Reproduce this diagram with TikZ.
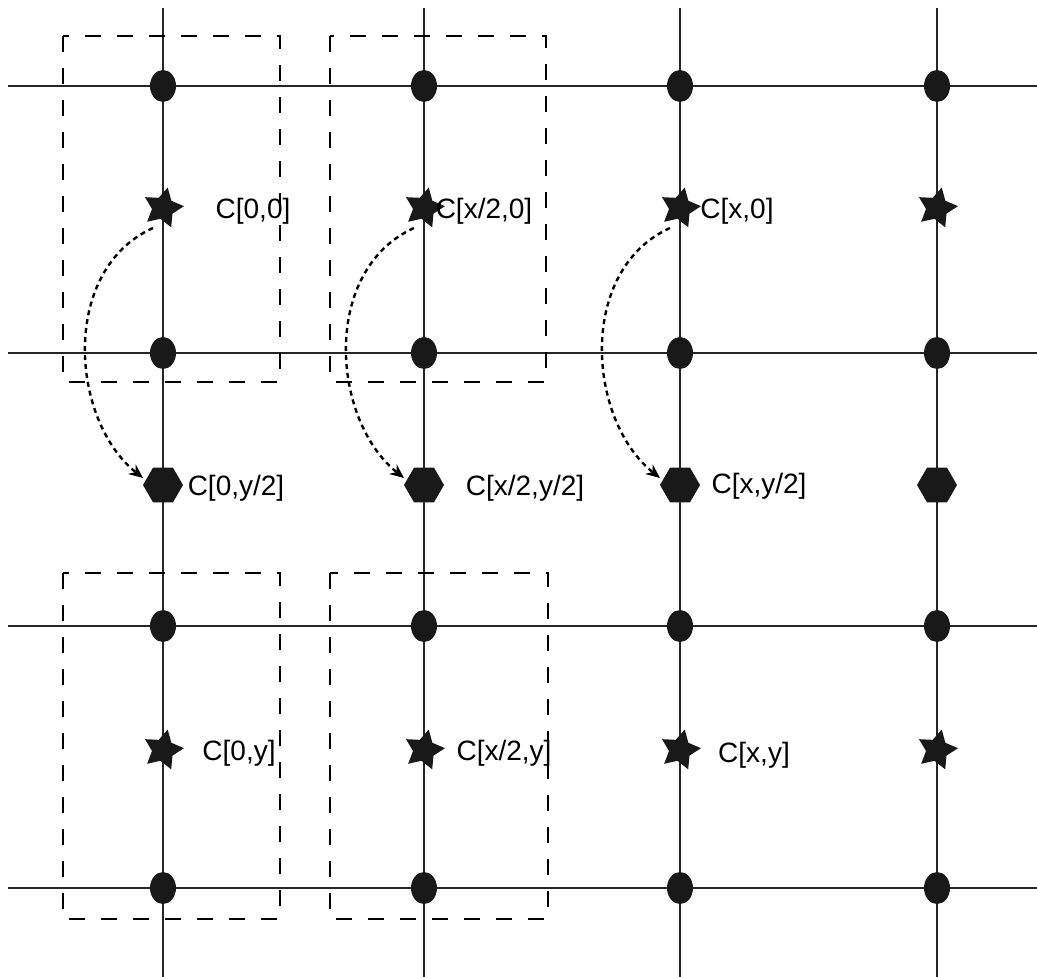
\documentclass[tikz,border=0pt]{standalone}
\usepackage{fontspec}
\setmainfont{Liberation Sans}
\usetikzlibrary{shapes.geometric,arrows.meta}
\begin{document}
\begin{tikzpicture}[x=0.5pt,y=-0.5pt,
  gridline/.style={line width=0.75pt,black!85},
  boxline/.style={line width=0.75pt,dash pattern=on 8pt off 8pt},
  dot/.style={ellipse,fill=black!90,inner sep=0pt,minimum width=13pt,minimum height=16pt},
  starmark/.style={star,star points=5,star point ratio=1.9,fill=black!90,inner sep=0pt,minimum size=21pt,shape border rotate=-85},
  hexmark/.style={regular polygon,regular polygon sides=6,fill=black!90,inner sep=0pt,minimum size=20pt},
  lbl/.style={font=\fontsize{14}{16}\selectfont,inner sep=0pt},
  curvearrow/.style={line width=1.2pt,dash pattern=on 2.5pt off 2pt,-{Stealth[length=7pt,width=6pt]}}]
\useasboundingbox (0,0) rectangle (1037,977);
% grid lines
\foreach \x in {163,424,680,937} \draw[gridline] (\x,8) -- (\x,977);
\foreach \y in {86,353,626,888} \draw[gridline] (8,\y) -- (1037,\y);
% dashed boxes
\draw[boxline] (63,36) rectangle (280,382);
\draw[boxline] (330,36) rectangle (546,382);
\draw[boxline] (63,573) rectangle (280,919);
\draw[boxline] (330,573) rectangle (548,919);
% dots
\foreach \x/\c in {163/1,424/2,680/3,937/4}{
  \foreach \y/\r in {86/1,353/2,626/3,888/4}{
    \node[dot] (d\r\c) at (\x,\y) {};
  }
}
% markers
\foreach \x/\c in {163/1,424/2,680/3,937/4}{
  \node[starmark] (s\c) at (\x,208) {};
  \node[hexmark] (h\c) at (\x,485) {};
  \node[starmark] (b\c) at (\x,750) {};
}
% labels
\node[lbl] (l1) at (253,211) {C[0,0]};
\node[lbl] (l2) at (484,211) {C[x/2,0]};
\node[lbl] (l3) at (737,211) {C[x,0]};
\node[lbl] (l4) at (236,488) {C[0,y/2]};
\node[lbl] (l5) at (525,488) {C[x/2,y/2]};
\node[lbl] (l6) at (759,486) {C[x,y/2]};
\node[lbl] (l7) at (239,753) {C[0,y]};
\node[lbl] (l8) at (504,753) {C[x/2,y]};
\node[lbl] (l9) at (754,755) {C[x,y]};
% curved arrows
\foreach \c in {1,2,3}{
  \draw[curvearrow] (s\c.center) ++(-10,20) coordinate (a\c)
     .. controls +(-93,42) and +(-73,-58) .. ([xshift=-10pt,yshift=3.5pt]h\c.center);
}
\end{tikzpicture}
\end{document}
